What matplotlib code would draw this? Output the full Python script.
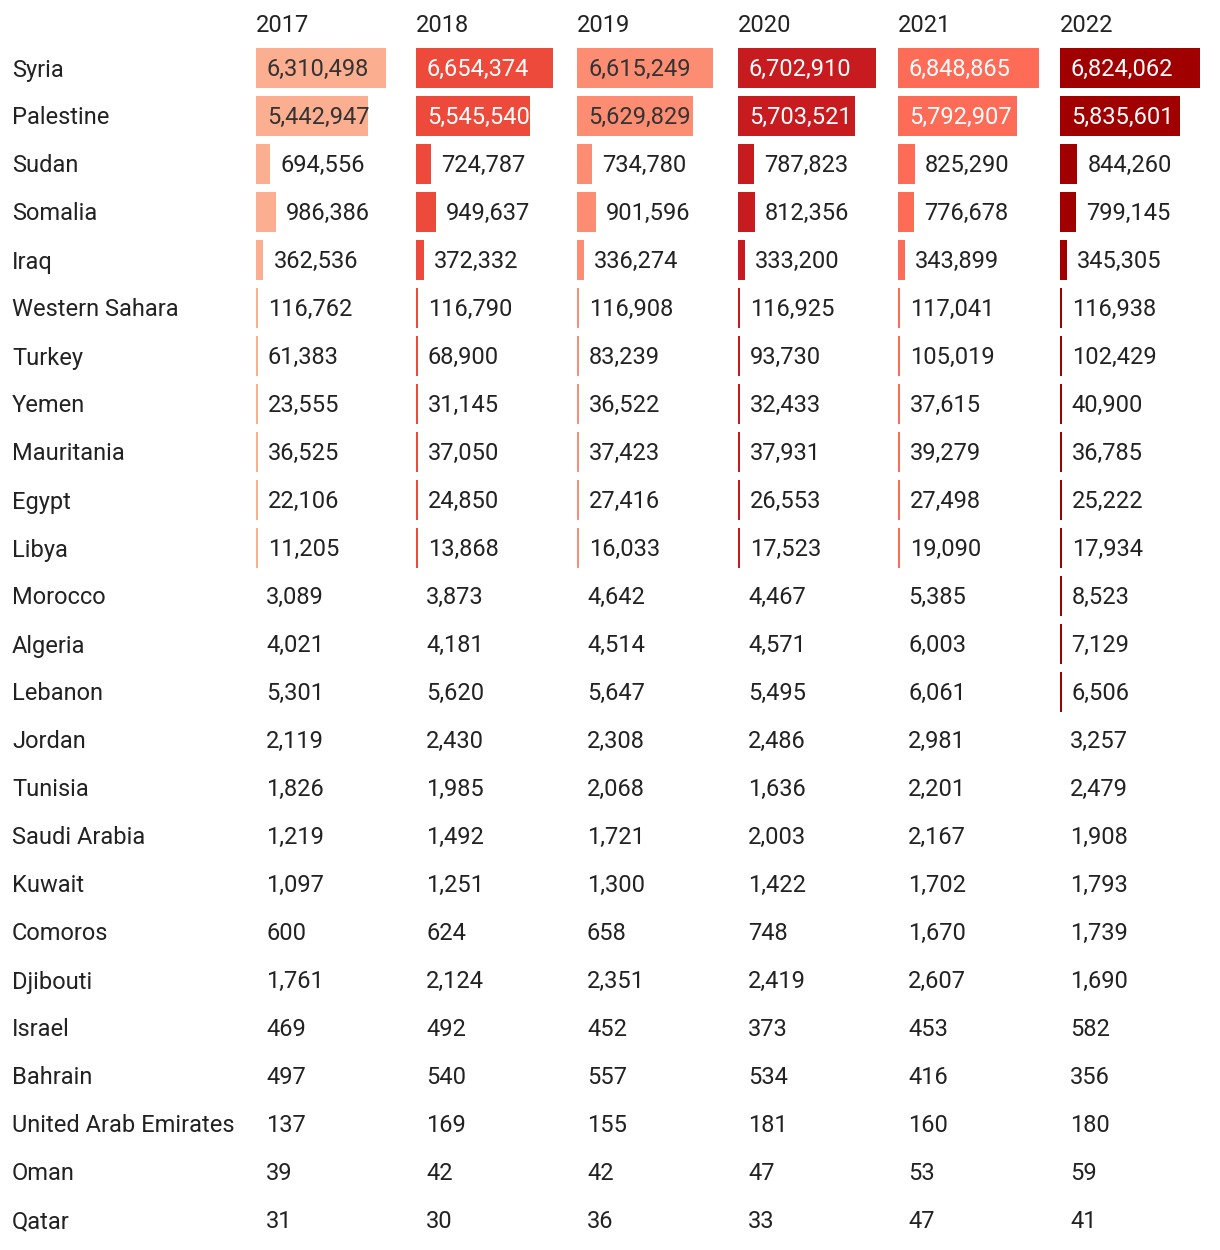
import matplotlib
matplotlib.use("Agg")
import matplotlib.pyplot as plt

plt.rcParams['font.family'] = ['Roboto', 'DejaVu Sans']

# Данные
countries = ["Syria", "Palestine", "Sudan", "Somalia", "Iraq", "Western Sahara", "Turkey",
             "Yemen", "Mauritania", "Egypt", "Libya", "Morocco", "Algeria", "Lebanon",
             "Jordan", "Tunisia", "Saudi Arabia", "Kuwait", "Comoros", "Djibouti", "Israel",
             "Bahrain", "United Arab Emirates", "Oman", "Qatar"]
years = ["2017", "2018", "2019", "2020", "2021", "2022"]

v2017 = [6310498, 5442947, 694556, 986386, 362536, 116762, 61383, 23555, 36525, 22106, 11205,
         3089, 4021, 5301, 2119, 1826, 1219, 1097, 600, 1761, 469, 497, 137, 39, 31]
v2018 = [6654374, 5545540, 724787, 949637, 372332, 116790, 68900, 31145, 37050, 24850, 13868,
         3873, 4181, 5620, 2430, 1985, 1492, 1251, 624, 2124, 492, 540, 169, 42, 30]
v2019 = [6615249, 5629829, 734780, 901596, 336274, 116908, 83239, 36522, 37423, 27416, 16033,
         4642, 4514, 5647, 2308, 2068, 1721, 1300, 658, 2351, 452, 557, 155, 42, 36]
v2020 = [6702910, 5703521, 787823, 812356, 333200, 116925, 93730, 32433, 37931, 26553, 17523,
         4467, 4571, 5495, 2486, 1636, 2003, 1422, 748, 2419, 373, 534, 181, 47, 33]
v2021 = [6848865, 5792907, 825290, 776678, 343899, 117041, 105019, 37615, 39279, 27498, 19090,
         5385, 6003, 6061, 2981, 2201, 2167, 1702, 1670, 2607, 453, 416, 160, 53, 47]
v2022 = [6824062, 5835601, 844260, 799145, 345305, 116938, 102429, 40900, 36785, 25222, 17934,
         8523, 7129, 6506, 3257, 2479, 1908, 1793, 1739, 1690, 582, 356, 180, 59, 41]

series = [v2017, v2018, v2019, v2020, v2021, v2022]
bar_colors = ["#fcae91", "#ee4a3b", "#fc8d72", "#c81b1f", "#fe6b56", "#a00000"]
text_on_bar = ["#333333", "white", "#333333", "white", "white", "white"]

# Раскладка (в пикселях)
W, H = 1220, 1250
col_x = [256, 416, 577, 738, 898, 1060]
row_y0 = 68
row_h = 48
bar_h = 40
max_w = 141
min_visible = 6300

fig = plt.figure(figsize=(W / 100, H / 100), dpi=100)
ax = fig.add_axes([0, 0, 1, 1])
ax.set_xlim(0, W)
ax.set_ylim(H, 0)
ax.axis("off")

vmax = max(max(s) for s in series)
scale = max_w / vmax

for j, year in enumerate(years):
    ax.text(col_x[j], 25, year, fontsize=17, color="#222222", va="center", ha="left")

for i, country in enumerate(countries):
    y = row_y0 + i * row_h
    ax.text(12, y + 2, country, fontsize=17, color="#222222", va="center", ha="left")
    for j, vals in enumerate(series):
        v = vals[i]
        w = v * scale
        if v >= min_visible:
            w = max(w, 1.6)
        else:
            w = 0
        if w > 0:
            ax.barh(y, w, height=bar_h, left=col_x[j], color=bar_colors[j], linewidth=0)
        label = f"{v:,}"
        if w > 100:
            ax.text(col_x[j] + 11, y + 1, label, fontsize=17, color=text_on_bar[j],
                    va="center", ha="left")
        else:
            ax.text(col_x[j] + w + 10, y + 1, label, fontsize=17, color="#222222",
                    va="center", ha="left")

fig.savefig("out.png", dpi=100)
